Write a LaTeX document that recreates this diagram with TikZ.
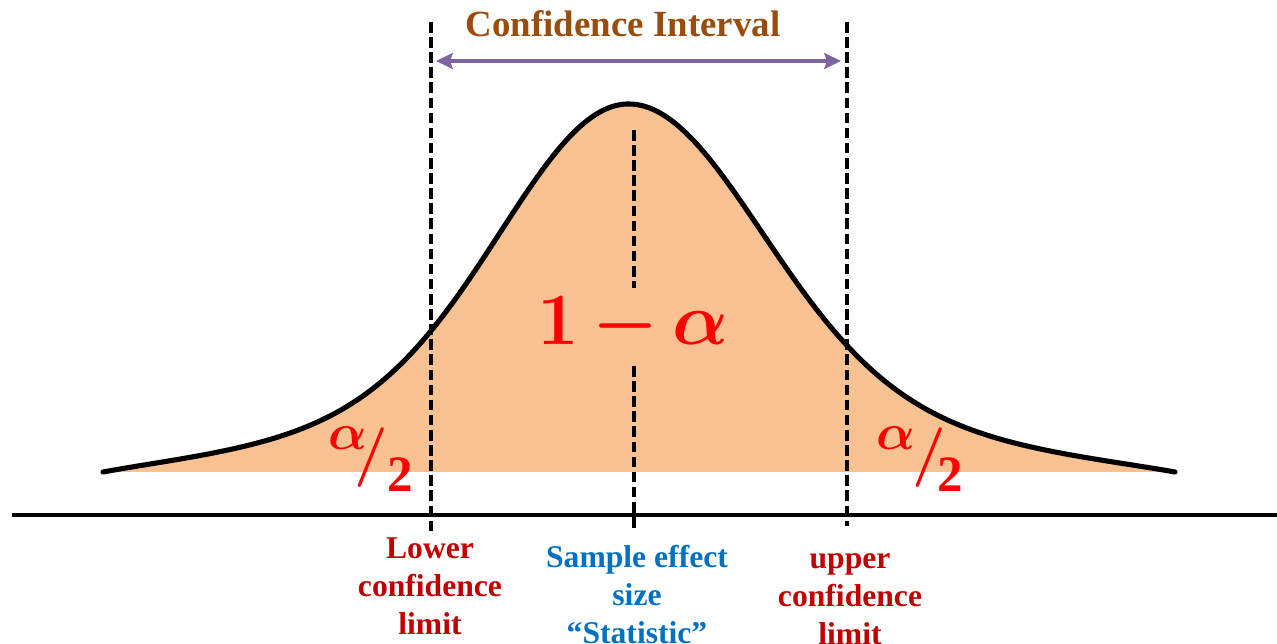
\RequirePackage{fix-cm}
\documentclass[tikz,border=0pt]{standalone}
\usepackage{fontspec}
\setmainfont{Liberation Serif}
\usetikzlibrary{arrows.meta}
\definecolor{bellfill}{RGB}{248,193,146}
\definecolor{ciarrow}{RGB}{128,100,162}
\definecolor{citext}{RGB}{153,76,12}
\definecolor{limred}{RGB}{192,0,0}
\definecolor{statblue}{RGB}{0,112,192}
\begin{document}
\begin{tikzpicture}[x=0.02cm,y=-0.02cm,
  curveline/.style={line width=2.9pt, line join=round, line cap=round},
  guide/.style={line width=2.7pt, dash pattern=on 6pt off 2.6pt},
  axisline/.style={line width=2.7pt},
  ciarr/.style={draw=ciarrow, line width=2.3pt,
    {Stealth[length=9.5pt,width=9pt,inset=1.5pt]}-{Stealth[length=9.5pt,width=9pt,inset=1.5pt]}},
  lbl/.style={font=\fontsize{18}{21.6}\selectfont\bfseries, align=center, anchor=base, inner sep=0pt},
  redmath/.style={text=red, inner sep=0pt, anchor=base},
  half/.style={redmath, font=\boldmath\fontsize{29}{29}\selectfont},
  slash/.style={redmath, font=\boldmath\fontsize{34}{34}\selectfont}]
\useasboundingbox (0,0) rectangle (1277,644);

% bell curve: Gaussian core with heavier, tapered tails
\def\bellL{472-368*(0.73*exp(-0.5*((\x-628.5)/122)^2)+0.27*exp(-0.5*((\x-628.5)/230)^2))*(1-exp(-(\x-103)/40))}
\def\bellR{472-368*(0.73*exp(-0.5*((\x-628.5)/126.9)^2)+0.27*exp(-0.5*((\x-628.5)/239.2)^2))*(1-exp(-(1175-\x)/41.6))}
\fill[bellfill] plot[domain=103:628.5, samples=130] (\x,{\bellL})
  -- plot[domain=628.5:1175, samples=130] (\x,{\bellR}) -- cycle;
\draw[curveline] plot[domain=103:628.5, samples=130] (\x,{\bellL})
  -- plot[domain=628.5:1175, samples=130] (\x,{\bellR});

% axis
\coordinate (axL) at (12,515);
\coordinate (axR) at (1277,515);
\draw[axisline] (axL) -- (axR);

% dashed guides
\coordinate (Ltop) at (431,22);  \coordinate (Lbot) at (431,533);
\coordinate (Rtop) at (847,22);  \coordinate (Rbot) at (847,526);
\coordinate (Ctop) at (634,130); \coordinate (Cmid1) at (634,288);
\coordinate (Cmid2) at (634,366); \coordinate (Cbot) at (634,528);
\draw[guide] (Ltop) -- (Lbot);
\draw[guide] (Rtop) -- (Rbot);
\draw[guide] (Ctop) -- (Cmid1);
\draw[guide] (Cmid2) -- (Cbot);

% confidence interval arrow
\coordinate (ciL) at (436,61);
\coordinate (ciR) at (841,61);
\draw[ciarr] (ciL) -- (ciR);
\node[text=citext, font=\fontsize{21}{21}\selectfont\bfseries, anchor=base, inner sep=0pt] (ci) at (623,37) {Confidence Interval};

% 1 - alpha
\node[redmath, font=\boldmath\fontsize{42}{42}\selectfont] (main) at (633,345) {$1\mkern3mu{-}\mkern3mu\alpha$};

% alpha/2 left
\node[half] (aL) at (348,450) {$\alpha$};
\node[slash] (sL) at (371,473) {$/$};
\node[half] (tL) at (400,492) {\textbf{2}};
% alpha/2 right
\node[half] (aR) at (896,450) {$\alpha$};
\node[slash] (sR) at (929,473) {$/$};
\node[half] (tR) at (950,492) {\textbf{2}};

% labels (base = last line)
\node[lbl, text=limred] (lower) at (430,634) {Lower\\confidence\\limit};
\node[lbl, text=statblue] (stat) at (637,643) {Sample effect\\size\\“Statistic”};
\node[lbl, text=limred] (upper) at (850,644) {upper\\confidence\\limit};
\end{tikzpicture}
\end{document}
